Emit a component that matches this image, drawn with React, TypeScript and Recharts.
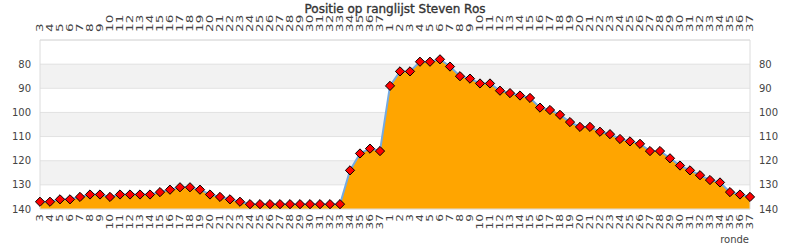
import React from 'react';
import { AreaChart, Area, XAxis, YAxis, CartesianGrid } from 'recharts';

// Rounds of the previous list (3..37) and of the current list (1..37)
const roundsPrev = [3, 4, 5, 6, 7, 8, 9, 10, 11, 12, 13, 14, 15, 16, 17, 18, 19, 20, 21, 22, 23, 24, 25, 26, 27, 28, 29, 30, 31, 32, 33, 34, 35, 36, 37];
const positionsPrev = [137, 137, 136, 136, 135, 134, 134, 135, 134, 134, 134, 134, 133, 132, 131, 131, 132, 134, 135, 136, 137, 138, 138, 138, 138, 138, 138, 138, 138, 138, 138, 124, 117, 115, 116];

const roundsCur = [1, 2, 3, 4, 5, 6, 7, 8, 9, 10, 11, 12, 13, 14, 15, 16, 17, 18, 19, 20, 21, 22, 23, 24, 25, 26, 27, 28, 29, 30, 31, 32, 33, 34, 35, 36, 37];
const positionsCur = [89, 83, 83, 79, 79, 78, 81, 85, 86, 88, 88, 91, 92, 93, 94, 98, 99, 101, 104, 106, 106, 108, 109, 111, 112, 113, 116, 116, 119, 122, 124, 126, 128, 129, 133, 134, 135];

const yTicks = [80, 90, 100, 110, 120, 130, 140];
const yDomain = [70, 140];

const title = 'Positie op ranglijst Steven Ros';
const xLabel = 'ronde';

const data = [
  ...roundsPrev.map((r, i) => ({ key: `A-${r}`, label: String(r), pos: positionsPrev[i] })),
  ...roundsCur.map((r, i) => ({ key: `B-${r}`, label: String(r), pos: positionsCur[i] })),
];
const labelOf = (k: string) => String(k).split('-')[1];

const FONT = 'DejaVu Sans';
const TXT = '#444';

const TopTick = (props: any) => {
  const { x, y, payload } = props;
  return (
    <text x={0} y={0} transform={`translate(${x} ${y}) rotate(-90) scale(1.6 1)`} textAnchor="start" dominantBaseline="central"
      fontSize={8.5} fontFamily={FONT} fill={TXT}>{labelOf(payload.value)}</text>
  );
};
const BottomTick = (props: any) => {
  const { x, y, payload } = props;
  return (
    <text x={0} y={0} transform={`translate(${x} ${y}) rotate(-90) scale(1.35 1)`} textAnchor="end" dominantBaseline="central"
      fontSize={9} fontFamily={FONT} fill={TXT}>{labelOf(payload.value)}</text>
  );
};

const Diamond = (props: any) => {
  const { cx, cy, index } = props;
  if (cx == null || cy == null) return <g key={`d${index}`} />;
  const r = 4.6;
  return (
    <path key={`d${index}`} d={`M${cx},${cy - r}L${cx + r},${cy}L${cx},${cy + r}L${cx - r},${cy}Z`}
      fill="#ff0000" stroke="#000" strokeWidth={1} />
  );
};

export default function App() {
  return (
    <div style={{ position: 'absolute', left: 0, top: 0, width: 790, height: 250, background: '#fff' }}>
      <AreaChart width={790} height={250} data={data} margin={{ top: 0, right: 0, bottom: 0, left: 0 }}>
        <CartesianGrid yAxisId="left" xAxisId="bottom" vertical={false} stroke="#e2e2e2"
          horizontalFill={['#ffffff', '#f2f2f2']} fillOpacity={1} />
        <XAxis xAxisId="top" orientation="top" dataKey="key" scale="point" interval={0} height={40}
          tickSize={0} tickMargin={8} tick={<TopTick />} axisLine={{ stroke: '#dcdcdc' }} tickLine={false} />
        <XAxis xAxisId="bottom" orientation="bottom" dataKey="key" scale="point" interval={0} height={41}
          tickSize={0} tickMargin={5} tick={<BottomTick />} axisLine={{ stroke: '#dcdcdc' }} tickLine={false} />
        <YAxis yAxisId="left" orientation="left" type="number" domain={yDomain} reversed ticks={yTicks}
          allowDataOverflow width={40} tickSize={0} tickMargin={9} tickLine={false}
          axisLine={{ stroke: '#dcdcdc' }} tick={{ fontSize: 10, fontFamily: FONT, fill: TXT }} />
        <YAxis yAxisId="right" orientation="right" type="number" domain={yDomain} reversed ticks={yTicks}
          allowDataOverflow width={40} tickSize={0} tickMargin={9} tickLine={false}
          axisLine={{ stroke: '#dcdcdc' }} tick={{ fontSize: 10, fontFamily: FONT, fill: TXT, textAnchor: 'start' }} />
        <Area xAxisId="bottom" yAxisId="left" type="linear" dataKey="pos" baseValue="dataMax"
          stroke="#74aae2" strokeWidth={2} fill="#ffa500" fillOpacity={1}
          dot={Diamond} activeDot={false} isAnimationActive={false} />
      </AreaChart>
      <svg width={790} height={250} style={{ position: 'absolute', left: 0, top: 0, pointerEvents: 'none' }}>
        <text x={395} y={13} textAnchor="middle" fontSize={12} fontFamily={FONT} fill="#333" stroke="#333" strokeWidth={0.35}>{title}</text>
        <text x={749} y={243} textAnchor="end" fontSize={10} fontFamily={FONT} fill={TXT}>{xLabel}</text>
      </svg>
    </div>
  );
}
